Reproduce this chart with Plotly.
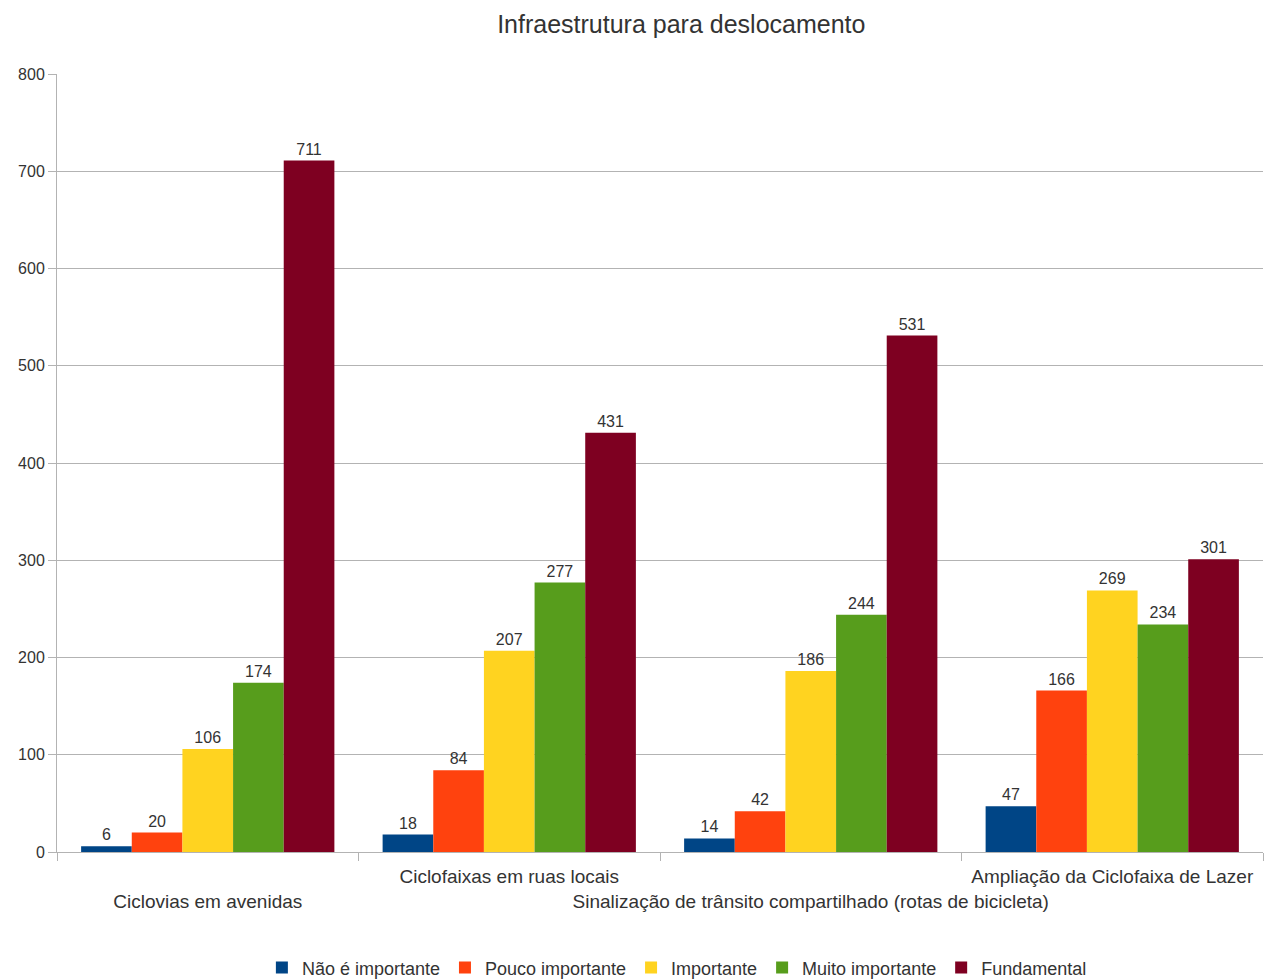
import plotly.graph_objects as go

categories = [
    "Ciclovias em avenidas",
    "Ciclofaixas em ruas locais",
    "Sinalização de trânsito compartilhado (rotas de bicicleta)",
    "Ampliação da Ciclofaixa de Lazer",
]
series_names = ["Não é importante", "Pouco importante", "Importante",
                "Muito importante", "Fundamental"]
nao_importante = [6, 18, 14, 47]
pouco_importante = [20, 84, 42, 166]
importante = [106, 207, 186, 269]
muito_importante = [174, 277, 244, 234]
fundamental = [711, 431, 531, 301]
series_values = [nao_importante, pouco_importante, importante,
                 muito_importante, fundamental]
colors = ["#004586", "#ff420e", "#ffd320", "#579d1c", "#7e0021"]

y_ticks = [0, 100, 200, 300, 400, 500, 600, 700, 800]

# alternate category labels between two rows so the long ones don't collide
tick_text = [("<br>" + c) if i % 2 == 0 else c for i, c in enumerate(categories)]

FONT = "Liberation Sans, Arial, sans-serif"
TEXT = "#333333"
AXIS = "#b3b3b3"

fig = go.Figure()
for name, vals, col in zip(series_names, series_values, colors):
    fig.add_trace(go.Bar(
        x=categories, y=vals, name=name,
        marker=dict(color=col, line=dict(width=0)),
        text=[str(v) for v in vals], textposition="outside",
        textfont=dict(family=FONT, size=16, color=TEXT),
        cliponaxis=False,
    ))

fig.update_layout(
    width=1264, height=980,
    margin=dict(l=57, r=1, t=74, b=128, autoexpand=False),
    paper_bgcolor="white", plot_bgcolor="white",
    barmode="group", bargap=0.16, bargroupgap=0,
    font=dict(family=FONT, color=TEXT),
    title=dict(text="Infraestrutura para deslocamento", x=0.539, xanchor="center",
               y=0.9755, yanchor="middle",
               font=dict(family=FONT, size=25, color=TEXT)),
    legend=dict(orientation="h", x=0.514, xanchor="center", y=-0.149, yanchor="middle",
                font=dict(family=FONT, size=18, color=TEXT),
                itemwidth=30, tracegroupgap=0, traceorder="normal"),
)
fig.update_xaxes(
    tickmode="array", tickvals=categories, ticktext=tick_text, tickangle=0,
    automargin=False, ticklabelstandoff=7,
    tickson="boundaries", ticks="outside", ticklen=8, tickcolor=AXIS,
    showline=True, linecolor=AXIS, linewidth=1,
    showgrid=False,
    tickfont=dict(family=FONT, size=19, color=TEXT),
)
fig.update_yaxes(
    range=[0, 800], tickvals=y_ticks, ticks="outside", ticklen=8,
    automargin=False,
    tickcolor=AXIS, showline=True, linecolor=AXIS, linewidth=1,
    showgrid=True, gridcolor=AXIS, gridwidth=1, zeroline=False,
    tickfont=dict(family=FONT, size=16, color=TEXT),
)

fig.write_html("out.html")
